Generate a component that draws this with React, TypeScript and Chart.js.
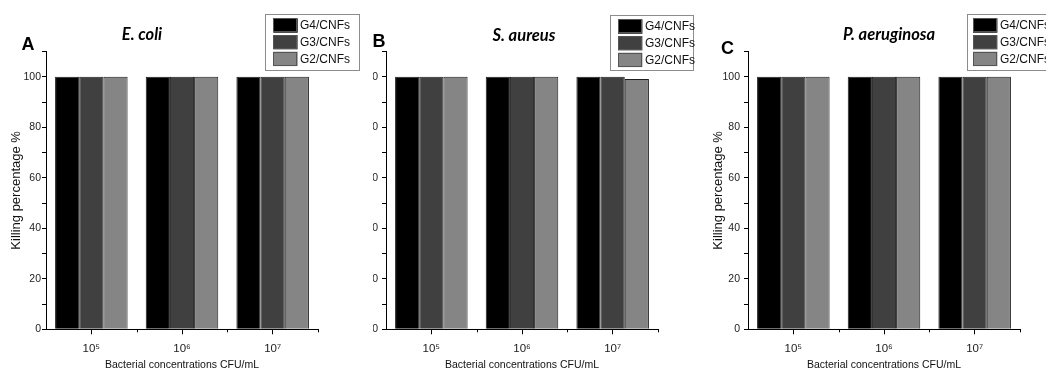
import React, { useEffect, useRef } from 'react';
import { Chart, registerables } from 'chart.js';

Chart.register(...registerables);

// ---- data ----
const categories = ['10⁵', '10⁶', '10⁷'];
const seriesLabels = ['G4/CNFs', 'G3/CNFs', 'G2/CNFs'];
const seriesColors = ['#000000', '#404040', '#858585'];

const eColiG4 = [100, 100, 100];
const eColiG3 = [100, 100, 100];
const eColiG2 = [100, 100, 100];

const sAureusG4 = [100, 100, 100];
const sAureusG3 = [100, 100, 100];
const sAureusG2 = [100, 100, 99.1];

const pAeruginosaG4 = [100, 100, 100];
const pAeruginosaG3 = [100, 100, 100];
const pAeruginosaG2 = [100, 100, 100];

const yMin = 0;
const yMax = 110;
const yStep = 10;
const yLabelEvery = 20;

const xTitle = 'Bacterial concentrations CFU/mL';
const yTitle = 'Killing percentage %';

const SANS = '"Liberation Sans", Arial, sans-serif';

const CANVAS_W = 372;
const CANVAS_H = 369;

type Panel = {
  letter: string;
  title: string;
  series: number[][];
  left: number;
  wrapLeft: number;
  wrapWidth: number;
  tickPad: number;
  letterX: number;
  letterY: number;
  titleX: number;
  titleY: number;
  legend: { x: number; y: number; w: number; h: number; sx: number; tx: number };
};

const panels: Panel[] = [
  {
    letter: 'A', title: 'E. coli', series: [eColiG4, eColiG3, eColiG2],
    wrapLeft: 0, wrapWidth: 373, left: 0, tickPad: 1,
    letterX: 28, letterY: 45, titleX: 142, titleY: 35,
    legend: { x: 265, y: 14, w: 94, h: 56, sx: 8.3, tx: 35 },
  },
  {
    letter: 'B', title: 'S. aureus', series: [sAureusG4, sAureusG3, sAureusG2],
    wrapLeft: 373, wrapWidth: 327, left: 340 - 373, tickPad: 4,
    letterX: 39, letterY: 42, titleX: 184, titleY: 36,
    legend: { x: 270, y: 15, w: 83, h: 55, sx: 8, tx: 35 },
  },
  {
    letter: 'C', title: 'P. aeruginosa', series: [pAeruginosaG4, pAeruginosaG3, pAeruginosaG2],
    wrapLeft: 700, wrapWidth: 346, left: 2, tickPad: 4,
    letterX: 25.4, letterY: 49, titleX: 187, titleY: 35,
    legend: { x: 264.7, y: 14, w: 94, h: 56, sx: 6.3, tx: 33.3 },
  },
];

const decorPlugin = {
  id: 'panelDecor',
  afterDraw(chart: any, _args: any, opts: any) {
    const ctx = chart.ctx as CanvasRenderingContext2D;
    ctx.save();
    const xs = chart.scales.x;
    const n = chart.data.labels.length;
    ctx.strokeStyle = '#000';
    ctx.lineWidth = 1;
    for (let i = 1; i <= n; i++) {
      const px = Math.round(xs.getPixelForValue(i - 0.5)) + 0.5;
      ctx.beginPath();
      ctx.moveTo(px, chart.chartArea.bottom);
      ctx.lineTo(px, chart.chartArea.bottom + 3);
      ctx.stroke();
    }
    ctx.fillStyle = '#000';
    ctx.textAlign = 'center';
    ctx.textBaseline = 'middle';
    ctx.font = `bold 18px ${SANS}`;
    ctx.fillText(opts.letter, opts.letterX, opts.letterY);
    ctx.font = 'italic bold 16.5px Lato, "Open Sans", sans-serif';
    ctx.fillText(opts.title, opts.titleX, opts.titleY);
    const lg = opts.legend;
    ctx.fillStyle = '#ffffff';
    ctx.fillRect(lg.x, lg.y, lg.w, lg.h);
    ctx.strokeStyle = '#8c8c8c';
    ctx.strokeRect(Math.round(lg.x) + 0.5, Math.round(lg.y) + 0.5, Math.round(lg.w), Math.round(lg.h));
    const sw = 24.4, sh = 14.4, row = 16.7, pad = 4.3;
    chart.data.datasets.forEach((ds: any, i: number) => {
      const y = lg.y + pad + i * row;
      ctx.fillStyle = ds.backgroundColor;
      ctx.fillRect(lg.x + lg.sx, y, sw, sh);
      ctx.strokeStyle = '#555';
      ctx.strokeRect(Math.round(lg.x + lg.sx) + 0.5, Math.round(y) + 0.5, Math.round(sw) - 1, Math.round(sh) - 1);
      ctx.fillStyle = '#111';
      ctx.textAlign = 'left';
      ctx.font = `12px ${SANS}`;
      ctx.fillText(ds.label, lg.x + lg.tx, y + sh / 2 + 0.5);
    });
    ctx.restore();
  },
};

function PanelChart({ panel }: { panel: Panel }) {
  const ref = useRef<HTMLCanvasElement | null>(null);
  useEffect(() => {
    if (!ref.current) return;
    const chart = new Chart(ref.current, {
      type: 'bar',
      data: {
        labels: categories,
        datasets: panel.series.map((vals, i) => ({
          label: seriesLabels[i],
          data: vals,
          backgroundColor: seriesColors[i],
          borderColor: '#1e1e1e',
          borderWidth: 1,
          categoryPercentage: 0.8,
          barPercentage: 1.0,
        })),
      },
      options: {
        responsive: false,
        maintainAspectRatio: false,
        animation: false,
        devicePixelRatio: 1,
        layout: { padding: { left: 0, top: 51.5, right: CANVAS_W - 318, bottom: 0 } },
        plugins: {
          legend: { display: false },
          tooltip: { enabled: false },
          title: { display: false },
          panelDecor: {
            letter: panel.letter, letterX: panel.letterX, letterY: panel.letterY,
            title: panel.title, titleX: panel.titleX, titleY: panel.titleY,
            legend: panel.legend,
          },
        } as any,
        scales: {
          x: {
            type: 'category',
            offset: true,
            grid: { display: true, drawOnChartArea: false, offset: false, tickLength: 5, color: '#000' },
            border: { display: true, color: '#000', width: 1 },
            ticks: { color: '#222', font: { family: SANS, size: 11.5 }, padding: 8, maxRotation: 0 },
            title: {
              display: true, text: xTitle, color: '#111',
              font: { family: SANS, size: 10.5, lineHeight: 1 }, padding: { top: 0, bottom: -1 },
            },
            afterFit(scale: any) { scale.height = 39.7; },
          },
          y: {
            type: 'linear',
            min: yMin,
            max: yMax,
            grid: { display: true, drawOnChartArea: false, tickLength: 4, color: '#000' },
            border: { display: true, color: '#000', width: 1 },
            ticks: {
              stepSize: yStep,
              color: '#222',
              font: { family: SANS, size: 10.5 },
              padding: panel.tickPad,
              callback: (v: any) => (Number(v) % yLabelEvery === 0 && Number(v) <= 100 ? String(v) : ''),
            },
            title: {
              display: true, text: yTitle, color: '#111',
              font: { family: SANS, size: 13 }, padding: { top: 9, bottom: 0 },
            },
            afterFit(scale: any) { scale.width = 46; },
          },
        },
      },
      plugins: [decorPlugin],
    } as any);
    return () => chart.destroy();
  }, [panel]);
  return (
    <div
      style={{
        position: 'absolute', left: panel.wrapLeft, top: 0, width: panel.wrapWidth, height: CANVAS_H,
        overflow: 'hidden', background: '#fff',
      }}
    >
      <canvas
        ref={ref}
        width={CANVAS_W}
        height={CANVAS_H}
        style={{ position: 'absolute', left: panel.left, top: 0 }}
      />
    </div>
  );
}

export default function App() {
  return (
    <div
      style={{
        position: 'fixed', left: 0, top: 0, width: 1046, height: 369,
        overflow: 'hidden', background: '#fff',
      }}
    >
      {panels.map((p) => (
        <PanelChart key={p.letter} panel={p} />
      ))}
    </div>
  );
}
